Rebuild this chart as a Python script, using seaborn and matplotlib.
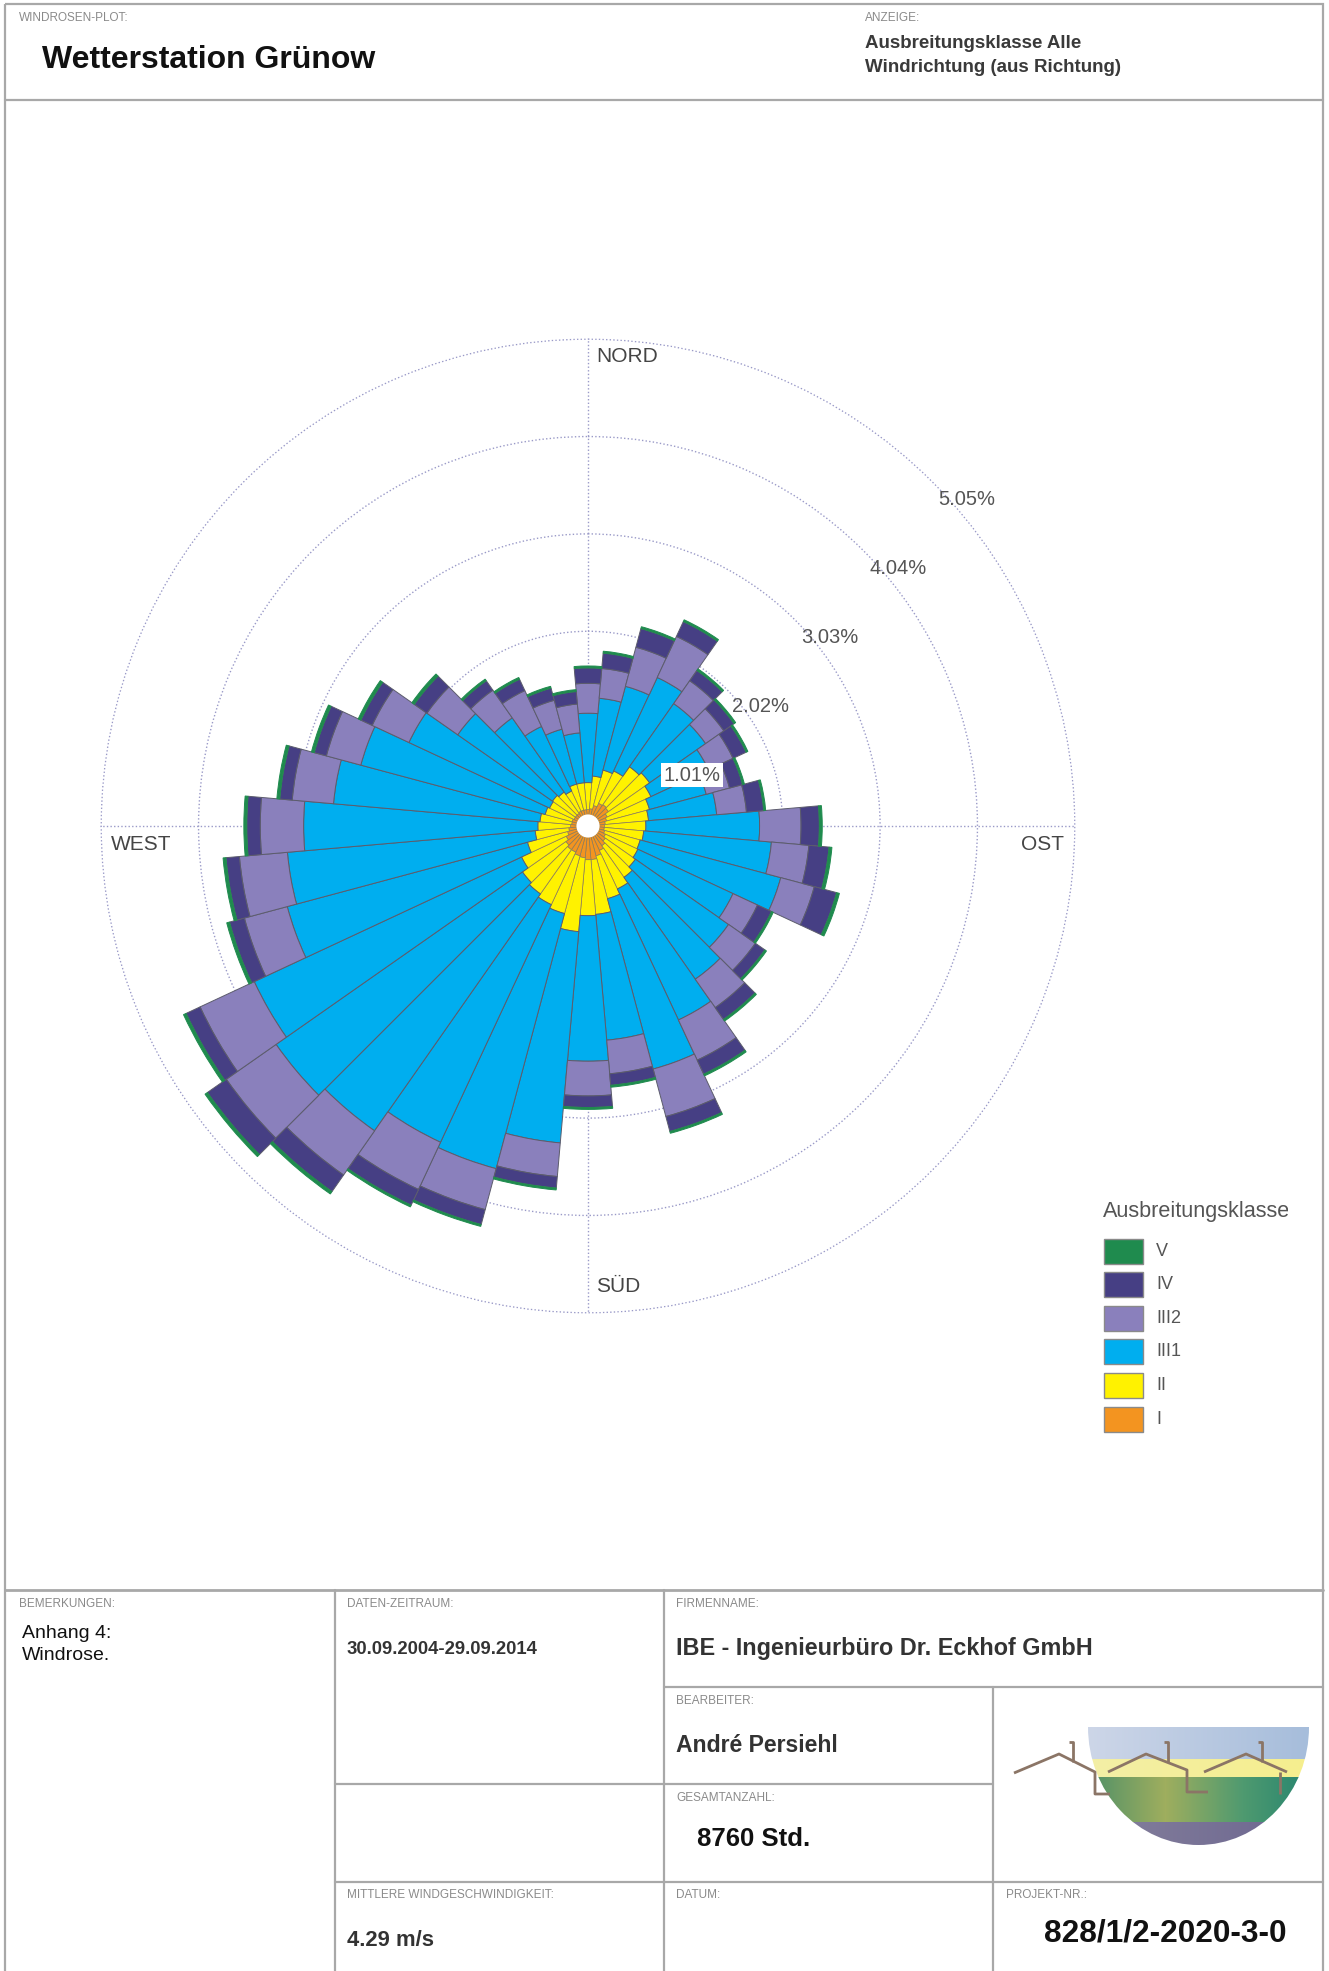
import numpy as np
import pandas as pd
import seaborn as sns
import matplotlib
matplotlib.use("Agg")
import matplotlib.pyplot as plt
from matplotlib.patches import Rectangle, Ellipse
from matplotlib.colors import to_rgb

# ---------------- data ----------------
directions = list(range(0, 360, 10))
classes = ["I", "II", "III1", "III2", "IV", "V"]
class_I = [.17, .18, .22, .26, .27, .26, .22, .20, .18, .17, .17, .18, .20, .22, .25, .28, .32, .35,
           .35, .33, .32, .30, .30, .28, .25, .22, .20, .18, .17, .17, .16, .16, .16, .17, .17, .17]
class_II = [.28, .34, .38, .37, .48, .52, .50, .46, .45, .43, .41, .38, .37, .38, .40, .44, .46, .57,
            .58, .77, .62, .60, .56, .55, .51, .43, .35, .34, .33, .29, .28, .29, .27, .23, .28, .28]
class_III1 = [.72, .81, .90, 1.07, .80, .71, .66, .61, .71, 1.18, 1.33, 1.51, 1.09, 1.18, 1.29, 1.50, 1.83, 1.31,
              1.51, 2.20, 2.74, 2.72, 3.00, 3.12, 3.06, 2.58, 2.58, 2.43, 2.15, 1.98, 1.61, 1.20, .94, .74, .59, .52]
class_III2 = [.31, .31, .42, .47, .29, .23, .28, .25, .31, .43, .39, .36, .28, .34, .36, .46, .51, .35,
              .36, .35, .44, .54, .56, .63, .62, .46, .50, .45, .43, .37, .42, .39, .35, .41, .31, .30]
class_IV = [.16, .16, .20, .17, .13, .13, .15, .14, .18, .19, .21, .24, .16, .12, .15, .16, .16, .12,
            .12, .12, .16, .18, .21, .24, .16, .16, .14, .14, .13, .13, .13, .16, .12, .13, .13, .13]
class_V = [.02, .02, .02, .02, .02, .02, .02, .02, .02, .03, .03, .03, .02, .02, .02, .02, .02, .02,
           .02, .02, .02, .02, .03, .03, .03, .03, .03, .03, .03, .03, .03, .03, .02, .02, .02, .02]
class_colors = ["#f39420", "#fff200", "#00aeef", "#8a80bc", "#463f84", "#1f8b4e"]
ring_values = [1.01, 2.02, 3.03, 4.04, 5.05]
ring_labels = ["1.01%", "2.02%", "3.03%", "4.04%", "5.05%"]
legend_title = "Ausbreitungsklasse"
legend_order = ["V", "IV", "III2", "III1", "II", "I"]

df = pd.DataFrame({"dir": directions, "I": class_I, "II": class_II, "III1": class_III1,
                   "III2": class_III2, "IV": class_IV, "V": class_V})

# ---------------- style ----------------
sns.set_theme(style="white")
plt.rcParams['font.family'] = ['Liberation Sans', 'DejaVu Sans']
palette = dict(zip(classes, sns.color_palette(class_colors)))

W, H = 1329, 1971
fig = plt.figure(figsize=(W / 100, H / 100), dpi=100)
fig.patch.set_facecolor("white")

bg = fig.add_axes([0, 0, 1, 1])
bg.set_xlim(0, W)
bg.set_ylim(H, 0)
bg.axis("off")
bg.set_zorder(0)

# ---------------- wind rose ----------------
cx, cy = 588, 826
R = 5.06
px_per = 96.4
rad_px = R * px_per
ax = fig.add_axes([(cx - rad_px) / W, (H - cy - rad_px) / H, 2 * rad_px / W, 2 * rad_px / H],
                  projection="polar")
ax.set_zorder(2)
ax.set_facecolor("none")
ax.set_theta_zero_location("N")
ax.set_theta_direction(-1)
ax.set_ylim(0, R)

theta = np.deg2rad(df["dir"].to_numpy())
width = np.deg2rad(10)
bottom = np.zeros(len(df))
for cls in classes:
    vals = df[cls].to_numpy()
    if cls == "V":
        ec, lw = palette[cls], 0.7
    elif cls in ("I", "II"):
        ec, lw = "#8a7a5a", 0.5
    else:
        ec, lw = "#5c5c6c", 0.7
    ax.bar(theta, vals, width=width, bottom=bottom, color=palette[cls],
           edgecolor=ec, linewidth=lw, zorder=3)
    bottom = bottom + vals
# centre hole
ax.bar([0], [0.12], width=2 * np.pi, bottom=0, color="white", linewidth=0, zorder=5)

ax.set_rgrids(ring_values, labels=[""] * len(ring_values))
ax.set_thetagrids([0, 90, 180, 270], labels=[""] * 4)
ax.grid(True, color="#9a9ac8", linestyle=(0, (1, 1.6)), linewidth=1.0)
ax.set_axisbelow(True)
ax.spines["polar"].set_visible(False)

for v, lab in zip(ring_values, ring_labels):
    kw = {}
    if lab == "1.01%":
        kw["bbox"] = dict(boxstyle="square,pad=0.12", fc="white", ec="none")
    ax.annotate(lab, xy=(np.deg2rad(45), v), xytext=(4.5, -13), textcoords="offset points",
                ha="left", va="center", fontsize=14.5, color="#555555", zorder=6, **kw)

# compass labels
for txt, x, y in [("NORD", 596, 357), ("OST", 1021, 845), ("SÜD", 596, 1287), ("WEST", 111, 845)]:
    bg.text(x, y, txt, ha="left", va="center", fontsize=15, color="#454545")

# ---------------- legend ----------------
t = bg.text(1103, 1211, legend_title, ha="left", va="center", fontsize=15.6, color="#555555", clip_on=True)
t.set_clip_path(Rectangle((1090, 1190), 198, 45, transform=bg.transData))
for i, cls in enumerate(legend_order):
    yc = 1251 + i * 33.6
    bg.add_patch(Rectangle((1104, yc - 12.5), 39, 25, fc=palette[cls], ec="#8a8a8a", lw=1.0))
    bg.text(1156, yc, cls, ha="left", va="center", fontsize=13, color="#555555")

# ---------------- frame / header ----------------
lc = "#a8a8a8"
bg.add_patch(Rectangle((5, 4), 1318, 2100, fill=False, ec=lc, lw=1.6))
bg.plot([5, 1323], [100, 100], color=lc, lw=1.6)
small = dict(fontsize=8.5, color="#8a8a8a", ha="left", va="center")
bg.text(19, 18, "WINDROSEN-PLOT:", **small)
bg.text(42, 60, "Wetterstation Grünow", fontsize=23, fontweight="bold", color="#111111",
        ha="left", va="center")
bg.text(865, 18, "ANZEIGE:", **small)
bg.text(865, 44, "Ausbreitungsklasse Alle", fontsize=13.5, fontweight="bold", color="#3a3a3a",
        ha="left", va="center")
bg.text(865, 68, "Windrichtung (aus Richtung)", fontsize=13.5, fontweight="bold", color="#3a3a3a",
        ha="left", va="center")

# ---------------- bottom table ----------------
bg.plot([5, 1323], [1590, 1590], color=lc, lw=2.0)
bg.plot([334.5, 334.5], [1590, H], color=lc, lw=1.6)
bg.plot([664, 664], [1590, H], color=lc, lw=1.6)
bg.plot([993, 993], [1687, H], color=lc, lw=1.6)
bg.plot([664, 1323], [1687, 1687], color=lc, lw=1.6)
bg.plot([334.5, 993], [1784, 1784], color=lc, lw=1.6)
bg.plot([334.5, 1323], [1882, 1882], color=lc, lw=1.6)

bg.text(19, 1604, "BEMERKUNGEN:", **small)
bg.text(22, 1633, "Anhang 4:", fontsize=14, color="#111111", ha="left", va="center")
bg.text(22, 1656, "Windrose.", fontsize=14, color="#111111", ha="left", va="center")
bg.text(347, 1604, "DATEN-ZEITRAUM:", **small)
bg.text(347, 1650, "30.09.2004-29.09.2014", fontsize=13.3, fontweight="bold", color="#333333",
        ha="left", va="center")
bg.text(676, 1604, "FIRMENNAME:", **small)
bg.text(676, 1648, "IBE - Ingenieurbüro Dr. Eckhof GmbH", fontsize=16.8, fontweight="bold",
        color="#333333", ha="left", va="center")
bg.text(676, 1701, "BEARBEITER:", **small)
bg.text(676, 1746, "André Persiehl", fontsize=16.6, fontweight="bold", color="#333333",
        ha="left", va="center")
bg.text(676, 1798, "GESAMTANZAHL:", **small)
bg.text(697, 1839, "8760 Std.", fontsize=18.5, fontweight="bold", color="#111111",
        ha="left", va="center")
bg.text(347, 1895, "MITTLERE WINDGESCHWINDIGKEIT:", **small)
bg.text(347, 1940, "4.29 m/s", fontsize=15.8, fontweight="bold", color="#333333",
        ha="left", va="center")
bg.text(676, 1895, "DATUM:", **small)
bg.text(1006, 1895, "PROJEKT-NR.:", **small)
bg.text(1044, 1934, "828/1/2-2020-3-0", fontsize=22.8, fontweight="bold", color="#111111",
        ha="left", va="center")

# ---------------- logo ----------------
x0, x1, y0, y1 = 1088, 1309, 1727, 1845
nx, ny = x1 - x0, y1 - y0
img = np.ones((ny, nx, 3))
xs = np.linspace(0, 1, nx)


def grad(stops, t):
    pos = [s[0] for s in stops]
    cols = np.array([to_rgb(s[1]) for s in stops])
    return np.stack([np.interp(t, pos, cols[:, k]) for k in range(3)], axis=-1)


blue = grad([(0, "#cdd6e8"), (1, "#a6bddb")], xs)
yellow = grad([(0, "#f3efa6"), (1, "#f6ee8e")], xs)
green = grad([(0, "#4f9068"), (0.35, "#9fae5e"), (0.7, "#4f9a70"), (1, "#27856f")], xs)
purple = grad([(0, "#85809c"), (1, "#6c6690")], xs)
for j in range(ny):
    yy = y0 + j
    if yy < 1759:
        img[j] = blue
    elif yy < 1777:
        img[j] = yellow
    elif yy < 1822:
        img[j] = green
    else:
        img[j] = purple
im = bg.imshow(img, extent=(x0, x1, y1, y0), origin="upper", interpolation="bilinear", zorder=1)
ell = Ellipse(((x0 + x1) / 2, y0), nx, 2 * ny, transform=bg.transData, fc="none", ec="none")
bg.add_patch(ell)
im.set_clip_path(ell)
bg.set_xlim(0, W)
bg.set_ylim(H, 0)
bg.set_aspect("auto")

brown = "#8b7566"
roof_lines = [
    [(1014, 1773), (1059, 1754), (1095, 1772), (1095, 1794), (1110, 1794)],
    [(1108, 1772), (1146, 1754), (1187, 1770), (1187, 1792), (1208, 1792)],
    [(1204, 1772), (1246, 1754), (1287, 1772)],
    [(1280, 1772), (1280, 1794)],
    [(1069, 1742), (1073, 1742), (1073, 1762)],
    [(1164, 1742), (1168, 1742), (1168, 1762)],
    [(1258, 1742), (1262, 1742), (1262, 1762)],
]
for seg in roof_lines:
    xx, yy = zip(*seg)
    bg.plot(xx, yy, color=brown, lw=2.0, solid_capstyle="butt", zorder=2)

fig.savefig("out.png", dpi=100, facecolor="white")
